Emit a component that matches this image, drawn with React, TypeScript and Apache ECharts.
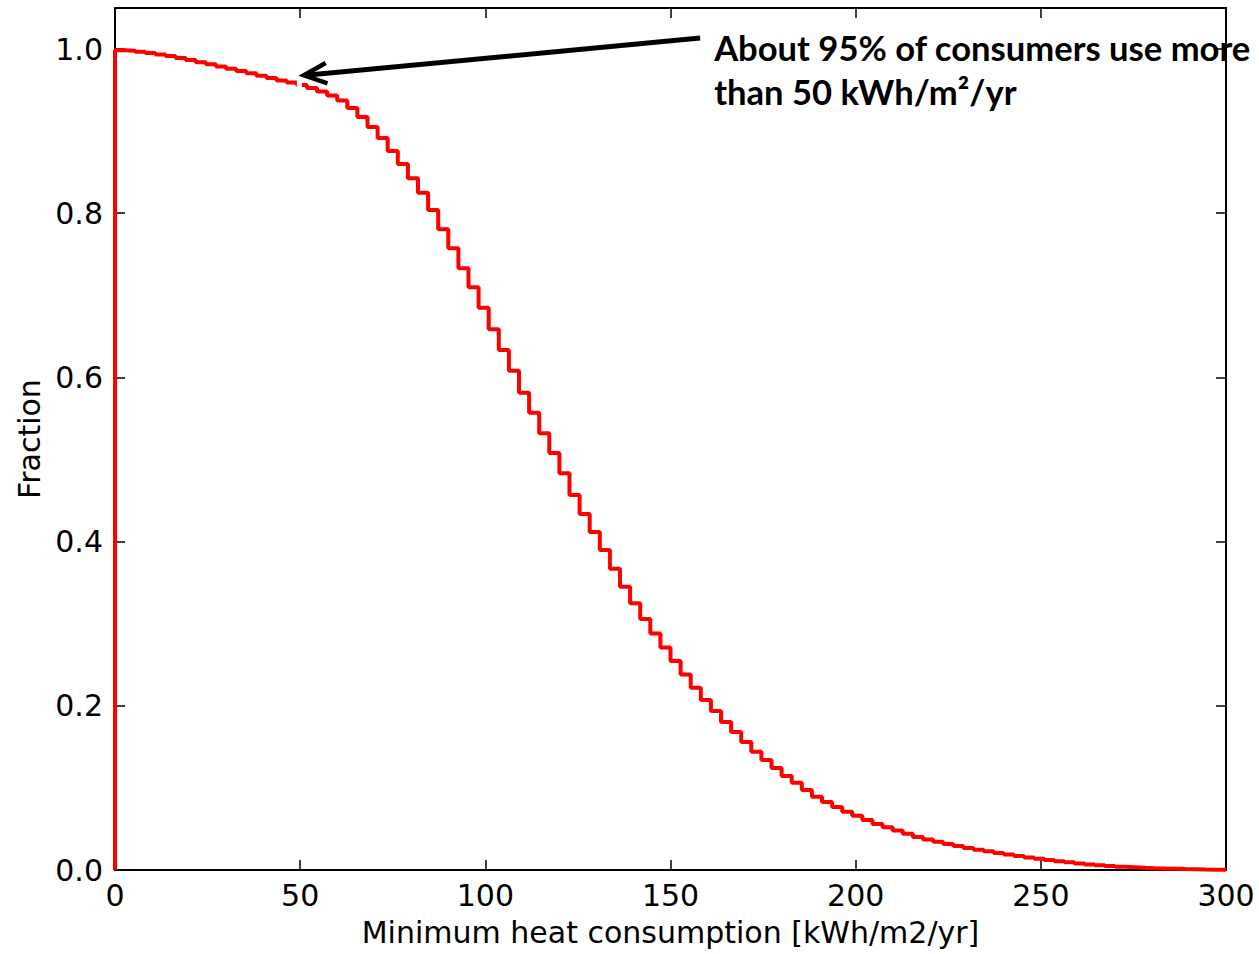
import React, { useEffect, useRef } from "react";
import * as echarts from "echarts";

// ---- data ----
const X_MIN = 0;
const X_MAX = 300;
const BIN_COUNT = 110; // steps of 300/110 kWh/m2/yr
const X_INTERVAL = 50;
const Y_MIN = 0;
const Y_MAX = 1.05;
const Y_INTERVAL = 0.2;

// Fraction of consumers whose minimum heat consumption exceeds each step's lower edge
const fractionAbove = [
  0.9985, 0.9978, 0.9966, 0.9951, 0.9933, 0.9915, 0.989, 0.9866, 0.9839, 0.9814,
  0.9787, 0.9759, 0.9732, 0.9704, 0.9675, 0.9647, 0.9616, 0.9592, 0.9562, 0.9525,
  0.9482, 0.9434, 0.9373, 0.9281, 0.9172, 0.905, 0.8916, 0.8758, 0.8599, 0.8425,
  0.825, 0.8039, 0.7804, 0.7572, 0.7329, 0.7097, 0.6849, 0.6586, 0.6334, 0.6082,
  0.5814, 0.557, 0.5319, 0.5079, 0.4832, 0.4568, 0.4336, 0.4117, 0.3898, 0.367,
  0.3451, 0.3248, 0.3057, 0.288, 0.271, 0.2545, 0.238, 0.222, 0.2071, 0.1937,
  0.1803, 0.1681, 0.1559, 0.1441, 0.134, 0.1242, 0.1145, 0.1063, 0.0974, 0.0893,
  0.0828, 0.0767, 0.071, 0.0661, 0.0609, 0.056, 0.052, 0.0481, 0.0441, 0.0402,
  0.0371, 0.0345, 0.0317, 0.0292, 0.0268, 0.0247, 0.0227, 0.0207, 0.0189, 0.0171,
  0.0153, 0.0138, 0.0122, 0.0107, 0.0093, 0.0079, 0.0068, 0.0057, 0.0048, 0.0039,
  0.0033, 0.0027, 0.0022, 0.0018, 0.0015, 0.0011, 0.0009, 0.0006, 0.0004, 0.0002,
];

const xAxisTitle = "Minimum heat consumption [kWh/m2/yr]";
const yAxisTitle = "Fraction";
const annotationLines = ["About 95% of consumers use more", "than 50 kWh/m²/yr"];
const arrowTail = [158, 1.0134];
const arrowTip = [51, 0.968];

const TICK_FONT = "DejaVu Sans";

export default function App() {
  const ref = useRef<HTMLDivElement | null>(null);

  useEffect(() => {
    document.body.style.margin = "0";
    if (!ref.current) return;
    const chart = echarts.init(ref.current, undefined, { renderer: "svg" });

    const binWidth = (X_MAX - X_MIN) / BIN_COUNT;
    const stepData: number[][] = [[X_MIN, 0]];
    fractionAbove.forEach((v, i) => stepData.push([X_MIN + i * binWidth, v]));
    stepData.push([X_MAX, 0]);

    const axisLine = { show: true, onZero: false, lineStyle: { color: "#000", width: 2 } };
    const axisTick = { show: true, inside: true, length: 10, lineStyle: { color: "#000", width: 1.5 } };
    const labelStyle = { fontFamily: TICK_FONT, fontSize: 30, color: "#000" };

    chart.setOption({
      animation: false,
      backgroundColor: "#ffffff",
      grid: { left: 115, top: 8, width: 1111, height: 862, containLabel: false },
      xAxis: [
        {
          type: "value",
          position: "bottom",
          min: X_MIN,
          max: X_MAX,
          interval: X_INTERVAL,
          axisLine,
          axisTick,
          splitLine: { show: false },
          axisLabel: { ...labelStyle, margin: 10, formatter: (v: number) => String(Math.round(v)) },
          name: xAxisTitle,
          nameLocation: "middle",
          nameGap: 47,
          nameTextStyle: { fontFamily: TICK_FONT, fontSize: 30, color: "#000" },
        },
        {
          type: "value",
          position: "top",
          min: X_MIN,
          max: X_MAX,
          interval: X_INTERVAL,
          axisLine,
          axisTick,
          splitLine: { show: false },
          axisLabel: { show: false },
        },
      ],
      yAxis: [
        {
          type: "value",
          position: "left",
          min: Y_MIN,
          max: Y_MAX,
          interval: Y_INTERVAL,
          axisLine,
          axisTick,
          splitLine: { show: false },
          axisLabel: {
            ...labelStyle,
            margin: 12,
            formatter: (v: number) => (Math.abs(v - Y_MAX) < 1e-6 ? "" : v.toFixed(1)),
          },
          name: yAxisTitle,
          nameLocation: "middle",
          nameGap: 71,
          nameRotate: 90,
          nameTextStyle: { fontFamily: TICK_FONT, fontSize: 30, color: "#000" },
        },
        {
          type: "value",
          position: "right",
          min: Y_MIN,
          max: Y_MAX,
          interval: Y_INTERVAL,
          axisLine,
          axisTick,
          splitLine: { show: false },
          axisLabel: { show: false },
        },
      ],
      series: [
        {
          type: "line",
          xAxisIndex: 0,
          yAxisIndex: 0,
          step: "end",
          data: stepData,
          symbol: "none",
          lineStyle: { color: "#ff0000", width: 4 },
          z: 5,
        },
      ],
    });

    // annotation (arrow + text), positioned through the chart's own scales
    const tip = chart.convertToPixel({ xAxisIndex: 0, yAxisIndex: 0 }, arrowTip) as number[];
    const tail = chart.convertToPixel({ xAxisIndex: 0, yAxisIndex: 0 }, arrowTail) as number[];
    const dx = tail[0] - tip[0];
    const dy = tail[1] - tip[1];
    const len = Math.sqrt(dx * dx + dy * dy);
    const ux = dx / len;
    const uy = dy / len;
    const headLen = 25;
    const ang = (24 * Math.PI) / 180;
    const rot = (a: number) => [
      tip[0] + headLen * (ux * Math.cos(a) - uy * Math.sin(a)),
      tip[1] + headLen * (ux * Math.sin(a) + uy * Math.cos(a)),
    ];
    const arm1 = rot(ang);
    const arm2 = rot(-ang);

    chart.setOption({
      graphic: [
        {
          type: "rect",
          z: 100,
          shape: { x: tip[0] - 7, y: tip[1] + 4, width: 5, height: 14 },
          style: { fill: "#ffffff" },
        },
        {
          type: "line",
          z: 101,
          shape: { x1: tail[0], y1: tail[1], x2: tip[0] + 2, y2: tip[1] },
          style: { stroke: "#000", lineWidth: 5 },
        },
        {
          type: "polyline",
          z: 101,
          shape: { points: [arm1, tip, arm2] },
          style: { stroke: "#000", lineWidth: 4.5, fill: null, lineJoin: "miter" },
        },
        {
          type: "text",
          z: 101,
          x: tail[0] + 14,
          y: tail[1] - 13,
          style: {
            text: annotationLines.join("\n"),
            font: "bold 34.6px Lato",
            fill: "#000",
            lineHeight: 44,
            verticalAlign: "top",
            align: "left",
          },
        },
      ],
    });

    return () => chart.dispose();
  }, []);

  return (
    <div
      ref={ref}
      style={{ position: "absolute", left: 0, top: 0, width: 1259, height: 954, background: "#fff" }}
    />
  );
}
